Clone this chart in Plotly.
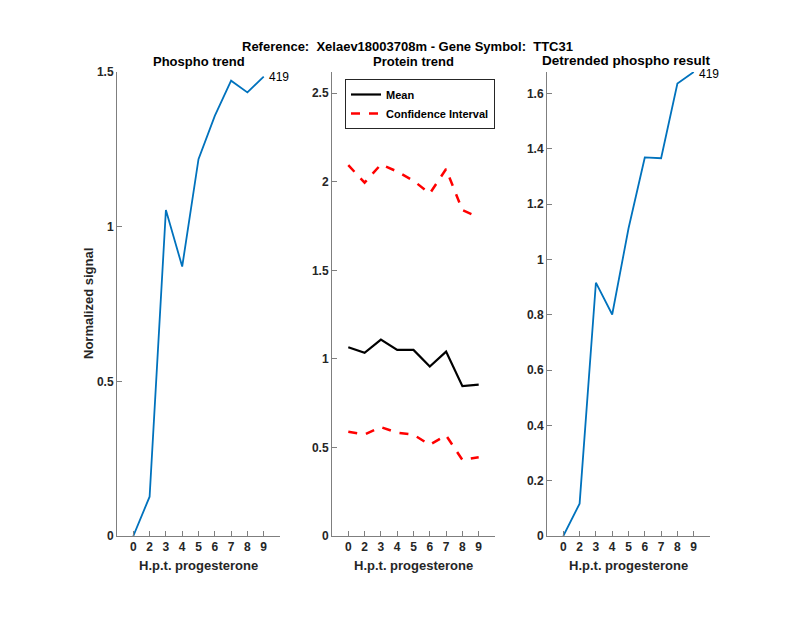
import plotly.graph_objects as go

x_pos = [1, 2, 3, 4, 5, 6, 7, 8, 9]
x_labels = ["0", "2", "3", "4", "5", "6", "7", "8", "9"]

phospho = [0.0, 0.127, 1.054, 0.871, 1.218, 1.358, 1.472, 1.434, 1.485]
protein_mean = [1.066, 1.034, 1.109, 1.051, 1.051, 0.957, 1.041, 0.846, 0.855]
protein_upper = [2.094, 1.995, 2.098, 2.058, 2.006, 1.934, 2.072, 1.840, 1.800]
protein_lower = [0.589, 0.573, 0.615, 0.583, 0.572, 0.515, 0.568, 0.430, 0.445]
detrended = [0.0, 0.117, 0.916, 0.801, 1.112, 1.369, 1.366, 1.636, 1.678]
peptide_label = "419"

BLUE = "#0072BD"
FONT = "Liberation Sans, Arial, Helvetica, sans-serif"
TXT = "#262626"
AX = "#7f7f7f"
W, H = 800, 618
OFF = 8  # page body offset


def px(xp):
    return (xp - OFF) / W


def py(yp):
    return 1 - (yp - OFF) / H


fig = go.Figure()

fig.add_trace(go.Scatter(x=x_pos, y=phospho, mode="lines", line=dict(color=BLUE, width=1.8),
                         xaxis="x", yaxis="y", showlegend=False))
fig.add_trace(go.Scatter(x=x_pos, y=protein_mean, mode="lines", name="Mean",
                         line=dict(color="black", width=2.2), xaxis="x2", yaxis="y2"))
fig.add_trace(go.Scatter(x=x_pos, y=protein_upper, mode="lines", name="Confidence Interval",
                         line=dict(color="#FF0000", width=2.5, dash="dash"), xaxis="x2", yaxis="y2"))
fig.add_trace(go.Scatter(x=x_pos, y=protein_lower, mode="lines", name="Confidence Interval",
                         line=dict(color="#FF0000", width=2.5, dash="dash"), xaxis="x2", yaxis="y2",
                         showlegend=False))
fig.add_trace(go.Scatter(x=x_pos, y=detrended, mode="lines", line=dict(color=BLUE, width=1.8),
                         xaxis="x3", yaxis="y3", showlegend=False))

ydom = [py(536), py(72)]
xdoms = [[px(117), px(280)], [px(332), px(495)], [px(547), px(710)]]


def xax(dom, anchor):
    return dict(domain=dom, anchor=anchor, range=[0, 10], tickvals=x_pos, ticktext=x_labels,
                showline=True, linecolor=AX, linewidth=1, ticks="inside", ticklen=5,
                tickcolor=AX, showgrid=False, zeroline=False, mirror=False, automargin=False,
                tickfont=dict(family=FONT, size=12, color=TXT, weight="bold"))


def yax(anchor, rng, dtick):
    return dict(domain=ydom, anchor=anchor, range=rng, dtick=dtick, tick0=0,
                showline=True, linecolor=AX, linewidth=1, ticks="inside", ticklen=5,
                tickcolor=AX, showgrid=False, zeroline=False, mirror=False, automargin=False,
                tickfont=dict(family=FONT, size=12, color=TXT, weight="bold"))


fig.update_layout(
    width=W, height=H,
    margin=dict(l=0, r=0, t=0, b=0, autoexpand=False),
    paper_bgcolor="white", plot_bgcolor="white",
    font=dict(family=FONT, color=TXT),
    xaxis=xax(xdoms[0], "y"),
    xaxis2=xax(xdoms[1], "y2"),
    xaxis3=xax(xdoms[2], "y3"),
    yaxis=yax("x", [0, 1.5], 0.5),
    yaxis2=yax("x2", [0, 2.62], 0.5),
    yaxis3=yax("x3", [0, 1.678], 0.2),
    legend=dict(x=px(345), y=py(79), xanchor="left", yanchor="top",
                bgcolor="white", bordercolor="#262626", borderwidth=1,
                font=dict(family=FONT, size=11, color="black", weight="bold"),
                tracegroupgap=0, itemwidth=30),
)


def title_ann(text, xp, yp, size=13, color="black", angle=0):
    return dict(text="<b>%s</b>" % text, x=px(xp), y=py(yp), xref="paper", yref="paper",
                xanchor="center", yanchor="middle", showarrow=False, textangle=angle,
                font=dict(family=FONT, size=size, color=color))


annotations = [
    title_ann("Reference:  Xelaev18003708m - Gene Symbol:  TTC31", 407, 47),
    title_ann("Phospho trend", 198.5, 61),
    title_ann("Protein trend", 413.5, 61),
    title_ann("Detrended phospho result", 626, 60, 13.5),
    title_ann("Normalized signal", 88, 304, 13, TXT, -90),
    title_ann("H.p.t. progesterone", 198.5, 565, 13, TXT),
    title_ann("H.p.t. progesterone", 413.5, 565, 13, TXT),
    title_ann("H.p.t. progesterone", 628.5, 565, 13, TXT),
    dict(text=peptide_label, x=x_pos[-1], y=phospho[-1], xref="x", yref="y", xanchor="left",
         yanchor="middle", xshift=3, showarrow=False, font=dict(family=FONT, size=12, color="black")),
    dict(text=peptide_label, x=x_pos[-1], y=detrended[-1], xref="x3", yref="y3", xanchor="left",
         yanchor="middle", xshift=3, yshift=-2, showarrow=False,
         font=dict(family=FONT, size=12, color="black")),
]
fig.update_layout(annotations=annotations)

fig.write_html("out.html")
